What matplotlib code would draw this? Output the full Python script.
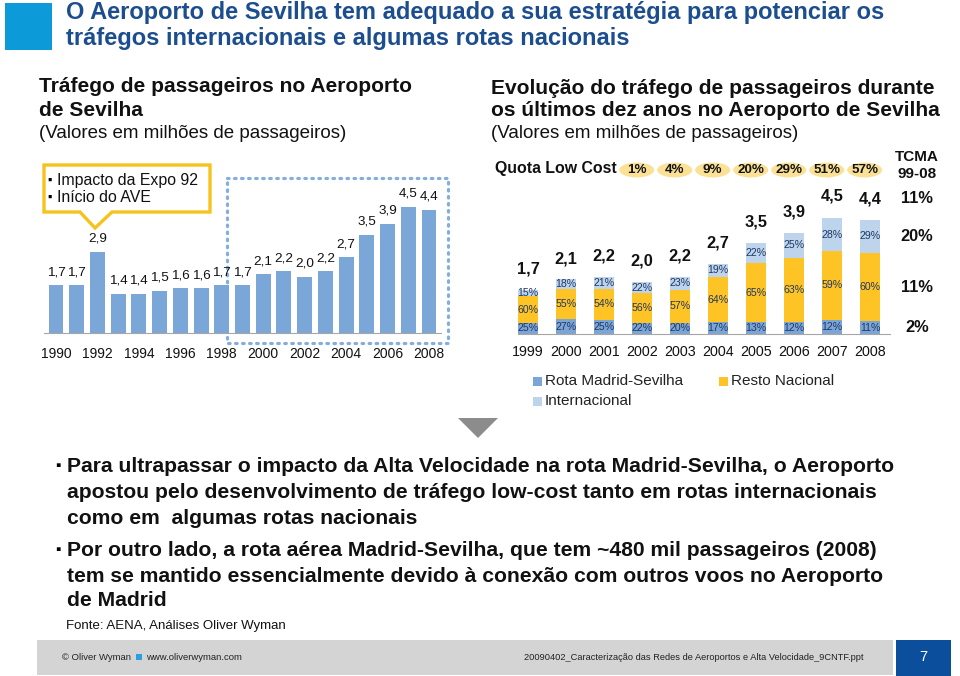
import matplotlib
matplotlib.use('Agg')
import matplotlib.pyplot as plt
from matplotlib.patches import Rectangle, Polygon, Ellipse

plt.rcParams['font.family'] = ['Liberation Sans', 'DejaVu Sans']

W, H = 960, 676

# ---------------- data ----------------
left_years = list(range(1990, 2009))
left_values = [1.7, 1.7, 2.9, 1.4, 1.4, 1.5, 1.6, 1.6, 1.7, 1.7,
               2.1, 2.2, 2.0, 2.2, 2.7, 3.5, 3.9, 4.5, 4.4]
left_tick_years = list(range(1990, 2009, 2))

right_years = list(range(1999, 2009))
right_totals = [1.7, 2.1, 2.2, 2.0, 2.2, 2.7, 3.5, 3.9, 4.5, 4.4]
share_madrid = [25, 27, 25, 22, 20, 17, 13, 12, 12, 11]
share_resto = [60, 55, 54, 56, 57, 64, 65, 63, 59, 60]
share_intl = [15, 18, 21, 22, 23, 19, 22, 25, 28, 29]
lowcost_years = [2002, 2003, 2004, 2005, 2006, 2007, 2008]
lowcost_share = [1, 4, 9, 20, 29, 51, 57]
tcma_total, tcma_intl, tcma_resto, tcma_madrid = 11, 20, 11, 2

series_names = ['Rota Madrid-Sevilha', 'Resto Nacional', 'Internacional']

C_BAR = '#7ba7d8'
C_MAD = '#7ca5d6'
C_RES = '#fec325'
C_INT = '#bdd4ec'
C_LAB = '#1f3864'
TXT = '#111111'


def fmt(v):
    return f'{v:.1f}'.replace('.', ',')


fig = plt.figure(figsize=(W / 100, H / 100), dpi=100)

# background overlay axes in pixel coordinates
bg = fig.add_axes([0, 0, 1, 1])
bg.set_xlim(0, W)
bg.set_ylim(H, 0)
bg.axis('off')

# ---------------- header ----------------
bg.add_patch(Rectangle((5, 3), 47, 47, color='#0d9ad8', lw=0))
TITLE_C = '#1c4e8f'
bg.text(66, 13, 'O Aeroporto de Sevilha tem adequado a sua estratégia para potenciar os',
        fontsize=17, fontweight='bold', color=TITLE_C, va='center', ha='left')
bg.text(66, 38, 'tráfegos internacionais e algumas rotas nacionais',
        fontsize=17, fontweight='bold', color=TITLE_C, va='center', ha='left')

# section titles
bg.text(39, 87, 'Tráfego de passageiros no Aeroporto', fontsize=15.1, fontweight='bold',
        va='center', ha='left', color=TXT)
bg.text(39, 111, 'de Sevilha', fontsize=15.1, fontweight='bold', va='center', ha='left',
        color=TXT)
bg.text(39, 133, '(Valores em milhões de passageiros)', fontsize=13.5, va='center',
        ha='left', color=TXT)

bg.text(491, 88, 'Evolução do tráfego de passageiros durante', fontsize=15.1,
        fontweight='bold', va='center', ha='left', color=TXT)
bg.text(491, 111, 'os últimos dez anos no Aeroporto de Sevilha', fontsize=15.1,
        fontweight='bold', va='center', ha='left', color=TXT)
bg.text(491, 133, '(Valores em milhões de passageiros)', fontsize=13.5, va='center',
        ha='left', color=TXT)

# ---------------- left chart ----------------
sp = 20.72
L = 56 - 0.6 * sp
R = 429 + 0.6 * sp
base1, top1 = 333, 170
ax1 = fig.add_axes([L / W, 1 - base1 / H, (R - L) / W, (base1 - top1) / H])
ax1.patch.set_alpha(0)
ax1.set_xlim(1989.4, 2008.6)
ax1.set_ylim(0, (base1 - top1) / 28.0)
ax1.bar(left_years, left_values, width=0.72, color=C_BAR, zorder=2)
for x, v in zip(left_years, left_values):
    ax1.annotate(fmt(v), (x, v), xytext=(0, 9.5), textcoords='offset points',
                 ha='center', va='center', fontsize=9.7, color=TXT)
for s in ['top', 'left', 'right']:
    ax1.spines[s].set_visible(False)
ax1.spines['bottom'].set_color('#a6a6a6')
ax1.set_yticks([])
ax1.set_xticks(left_tick_years)
ax1.set_xticklabels([str(y) for y in left_tick_years])
ax1.tick_params(axis='x', length=0, pad=10.4, labelsize=10, colors=TXT)

# dotted highlight box
bg.add_patch(Rectangle((227, 178), 221, 165, fill=False, ec='#85aedc', lw=2.3,
                       ls=(0, (0.5, 1.7)), capstyle='round'))

# callout
callout = [(44, 165), (210, 165), (210, 212), (112, 212), (95, 228), (80, 212), (44, 212)]
bg.add_patch(Polygon(callout, closed=True, fc='white', ec='#f5c31c', lw=2.4, joinstyle='miter'))
bg.text(47, 181, '▪', fontsize=9, va='center', ha='left', color='black')
bg.text(57, 181, 'Impacto da Expo 92', fontsize=11.4, va='center', ha='left', color=TXT)
bg.text(47, 198, '▪', fontsize=9, va='center', ha='left', color='black')
bg.text(57, 198, 'Início do AVE', fontsize=11.4, va='center', ha='left', color=TXT)

# ---------------- right chart ----------------
sp2 = 38.0
L2 = 528 - 0.27 * sp2
R2 = 870 + 0.53 * sp2
base2, top2 = 334, 140
u2 = 26.0
ax2 = fig.add_axes([L2 / W, 1 - base2 / H, (R2 - L2) / W, (base2 - top2) / H])
ax2.patch.set_alpha(0)
ax2.set_xlim(1999 - 0.27, 2008 + 0.53)
ax2.set_ylim(0, (base2 - top2) / u2)

mad = [t * p / 100 for t, p in zip(right_totals, share_madrid)]
res = [t * p / 100 for t, p in zip(right_totals, share_resto)]
itl = [t * p / 100 for t, p in zip(right_totals, share_intl)]
bot_res = mad
bot_int = [a + b for a, b in zip(mad, res)]
bw = 0.53
ax2.bar(right_years, mad, width=bw, color=C_MAD, zorder=2, label=series_names[0])
ax2.bar(right_years, res, width=bw, bottom=bot_res, color=C_RES, zorder=2, label=series_names[1])
ax2.bar(right_years, itl, width=bw, bottom=bot_int, color=C_INT, zorder=2, label=series_names[2])

for i, x in enumerate(right_years):
    ax2.text(x, mad[i] / 2, f'{share_madrid[i]}%', ha='center', va='center', fontsize=7.6, color=C_LAB, zorder=3)
    ax2.text(x, bot_res[i] + res[i] / 2, f'{share_resto[i]}%', ha='center', va='center', fontsize=7.6, color=C_LAB, zorder=3)
    ax2.text(x, bot_int[i] + itl[i] / 2, f'{share_intl[i]}%', ha='center', va='center', fontsize=7.6, color=C_LAB, zorder=3)
    ax2.annotate(fmt(right_totals[i]), (x, right_totals[i]), xytext=(0, 15),
                 textcoords='offset points', ha='center', va='center', fontsize=11.8,
                 fontweight='bold', color=TXT)

for s in ['top', 'left', 'right']:
    ax2.spines[s].set_visible(False)
ax2.spines['bottom'].set_color('#a6a6a6')
ax2.set_yticks([])
ax2.set_xticks(right_years)
ax2.set_xticklabels([str(y) for y in right_years])
ax2.tick_params(axis='x', length=0, pad=8.2, labelsize=10.3, colors=TXT)

# low cost quota ovals
oval_y = (base2 - 170) / u2
for x, s in zip(lowcost_years, lowcost_share):
    ax2.add_patch(Ellipse((x - 0.14, oval_y), 35 / sp2, 15 / u2, fc='#fbe196', ec='none', clip_on=False))
    ax2.text(x - 0.14, oval_y, f'{s}%', ha='center', va='center', fontsize=9.6, fontweight='bold', color=TXT)
bg.text(495, 168, 'Quota Low Cost', fontsize=11.4, fontweight='bold', va='center', ha='left', color=TXT)

# TCMA column
xt = 2008 + 1.24
ax2.text(xt, (base2 - 157) / u2, 'TCMA', ha='center', va='center', fontsize=11, fontweight='bold', color=TXT)
ax2.text(xt, (base2 - 174) / u2, '99-08', ha='center', va='center', fontsize=11, fontweight='bold', color=TXT)
last = len(right_years) - 1
ax2.annotate(f'{tcma_total}%', (xt, right_totals[last]), xytext=(0, 15), textcoords='offset points',
             ha='center', va='center', fontsize=11.8, fontweight='bold', color=TXT, annotation_clip=False)
ax2.text(xt, bot_int[last] + itl[last] / 2, f'{tcma_intl}%', ha='center', va='center', fontsize=11.8, fontweight='bold', color=TXT)
ax2.text(xt, bot_res[last] + res[last] / 2, f'{tcma_resto}%', ha='center', va='center', fontsize=11.8, fontweight='bold', color=TXT)
ax2.text(xt, mad[last] / 2, f'{tcma_madrid}%', ha='center', va='center', fontsize=11.8, fontweight='bold', color=TXT)

# legend (manual placement)
leg = [(533, 381, C_MAD, series_names[0]), (719, 381, C_RES, series_names[1]), (533, 401, C_INT, series_names[2])]
for x, y, c, n in leg:
    bg.add_patch(Rectangle((x, y - 4.5), 9, 9, color=c, lw=0))
    bg.text(x + 12, y, n, fontsize=11, va='center', ha='left', color='#222222')

# ---------------- arrow + bullets ----------------
bg.add_patch(Polygon([(458, 418), (498, 418), (478, 438)], closed=True, fc='#8c8c8c', ec='none'))

bullet_lines = [
    (466, True, 'Para ultrapassar o impacto da Alta Velocidade na rota Madrid-Sevilha, o Aeroporto'),
    (492, False, 'apostou pelo desenvolvimento de tráfego low-cost tanto em rotas internacionais'),
    (518, False, 'como em  algumas rotas nacionais'),
    (550, True, 'Por outro lado, a rota aérea Madrid-Sevilha, que tem ~480 mil passageiros (2008)'),
    (576, False, 'tem se mantido essencialmente devido à conexão com outros voos no Aeroporto'),
    (601, False, 'de Madrid'),
]
for y, b, s in bullet_lines:
    if b:
        bg.text(55, y, '▪', fontsize=11, va='center', ha='left', color='black')
    bg.text(67, y, s, fontsize=15.2, fontweight='bold', va='center', ha='left', color=TXT)

bg.text(66, 626, 'Fonte: AENA, Análises Oliver Wyman', fontsize=9.5, va='center', ha='left', color=TXT)

# ---------------- footer ----------------
bg.add_patch(Rectangle((37, 640), 856, 35, color='#d4d4d4', lw=0))
bg.add_patch(Rectangle((896, 640), 55, 36, color='#0b4f9c', lw=0))
bg.text(923, 657, '7', fontsize=10.5, va='center', ha='center', color='white')
bg.text(62, 657, '© Oliver Wyman', fontsize=6.8, va='center', ha='left', color='#222222')
bg.add_patch(Rectangle((136, 653.5), 6, 6, color='#2aa0e0', lw=0))
bg.text(146, 657, 'www.oliverwyman.com', fontsize=6.8, va='center', ha='left', color='#222222')
bg.text(864, 657, '20090402_Caracterização das Redes de Aeroportos e Alta Velocidade_9CNTF.ppt',
        fontsize=6.7, va='center', ha='right', color='#222222')

fig.savefig('out.png', dpi=100)
